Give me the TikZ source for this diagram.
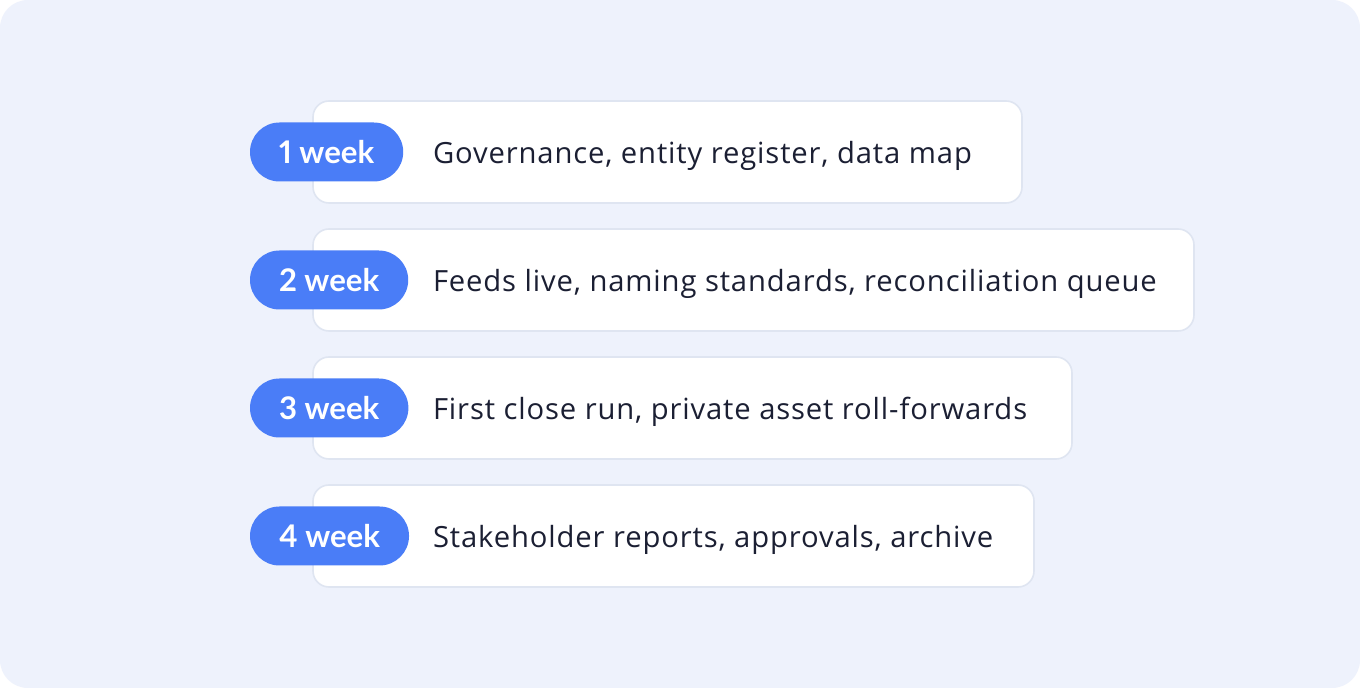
\documentclass[tikz,border=0pt]{standalone}
\usepackage{fontspec}
\setmainfont{Lato}[Numbers=Proportional]
\newfontfamily\stepfont{Open Sans}[LetterSpace=3]
\definecolor{bgblue}{HTML}{EEF2FC}
\definecolor{cardline}{HTML}{DFE5F1}
\definecolor{pillblue}{HTML}{4A7DF7}
\definecolor{inkdark}{HTML}{1B1F33}
\begin{document}
\begin{tikzpicture}
  [x=0.5pt,y=-0.5pt,every node/.style={inner sep=0pt,outer sep=0pt}]
  \tikzstyle{card} = [draw=cardline,line width=0.8pt,fill=white,rounded corners=8pt,minimum height=51pt,anchor=west]
  \tikzstyle{pill} = [fill=pillblue,rounded corners=14.75pt,minimum height=29.5pt,inner xsep=14.5pt,anchor=west,text=white,font=\fontsize{15.6}{18}\selectfont\bfseries]
  \tikzstyle{step text} = [anchor=base west,text=inkdark,font=\stepfont\fontsize{14.6}{17}\selectfont]

  \useasboundingbox (0,0) rectangle (1360,688);
  \fill[white] (0,0) rectangle (1360,688);
  \fill[bgblue,rounded corners=14pt] (0,0) rectangle (1360,688);

\foreach \n/\y/\w/\txt in {1/152/354.5pt/{Governance, entity register, data map},
                          2/280/440.5pt/{Feeds live, naming standards, reconciliation queue},
                          3/408/379.5pt/{First close run, private asset roll-forwards},
                          4/536/360.5pt/{Stakeholder reports, approvals, archive}}
{
  \node[card,minimum width=\w] (card\n) at (313,\y) {};
  \node[pill] (pill\n) at (250,\y) {\n\ week};
  \node[step text] (text\n) at (433,\y+12) {\txt};
}
\end{tikzpicture}
\end{document}
